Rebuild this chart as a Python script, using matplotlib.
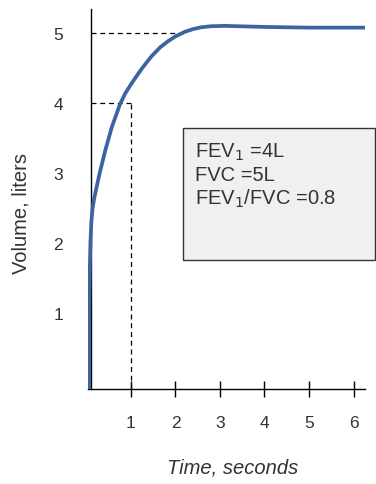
import matplotlib
matplotlib.use('Agg')
import matplotlib.pyplot as plt

plt.rcParams['font.family'] = ['Liberation Sans', 'DejaVu Sans']

# spirometry curve
time_s = [0.06, 0.06, 0.065, 0.075, 0.09, 0.11, 0.14, 0.17, 0.23, 0.30, 0.42, 0.57,
          0.75, 0.87, 1.0, 1.09, 1.25, 1.46, 1.65, 1.83, 2.0, 2.21, 2.4, 2.58,
          2.8, 3.1, 4.0, 5.0, 6.3]
volume_l = [-0.085, 0.8, 1.2, 1.6, 2.0, 2.3, 2.5, 2.62, 2.8, 3.0, 3.31, 3.65,
            3.97, 4.13, 4.26, 4.345, 4.49, 4.66, 4.785, 4.875, 4.945, 5.01, 5.05, 5.075,
            5.09, 5.095, 5.08, 5.07, 5.07]
fev1 = 4
fvc = 5
fvc_t = 2.2
x_ticks = [1, 2, 3, 4, 5, 6]
y_ticks = [1, 2, 3, 4, 5]

fig = plt.figure(figsize=(3.76, 4.85), dpi=100)
ax = fig.add_axes([0.234, 0.196, 0.737, 0.784])

txt = '#333333'
ax.plot(time_s, volume_l, color='#3b64a0', lw=2.7, solid_joinstyle='round',
        solid_capstyle='butt', zorder=3)

# dashed guides
ax.plot([0.1, 1], [fev1, fev1], 'k', ls=(0, (4, 3)), lw=0.9)
ax.plot([1, 1], [-0.085, fev1], 'k', ls=(0, (4, 3)), lw=0.9)
ax.plot([0.1, fvc_t], [fvc, fvc], 'k', ls=(0, (4, 3)), lw=0.9)

ax.set_xlim(0.035, 6.26)
ax.set_ylim(-0.085, 5.34)
ax.spines['top'].set_visible(False)
ax.spines['right'].set_visible(False)
ax.spines['left'].set_position(('data', 0.1))
ax.spines['left'].set_linewidth(1.0)
ax.spines['bottom'].set_linewidth(1.0)

ax.set_xticks(x_ticks)
ax.set_yticks(y_ticks)
ax.tick_params(axis='x', direction='inout', length=12, width=1, pad=13,
               labelsize=12.5, labelcolor=txt)
ax.tick_params(axis='y', length=0, pad=20, labelsize=12.5, labelcolor=txt)

fig.text(0.057, 0.56, 'Volume, liters', rotation=90, ha='center', va='center',
         fontsize=14.5, color=txt)
fig.text(0.62, 0.035, 'Time, seconds', style='italic', ha='center', va='center',
         fontsize=14.5, color=txt)

# info box
box = plt.Rectangle((183 / 376, 1 - 261 / 485), (375 - 183) / 376, (261 - 129) / 485,
                    transform=fig.transFigure, facecolor='#f0f0f0',
                    edgecolor='#333333', lw=1.0)
fig.patches.append(box)
lines = ['FEV$_1$ =4L', 'FVC =5L', 'FEV$_1$/FVC =0.8']
for i, s in enumerate(lines):
    fig.text(195 / 376, 1 - (152 + 23.5 * i) / 485, s, fontsize=14.5, color=txt,
             va='center', ha='left')

fig.savefig('out.png', dpi=100)
